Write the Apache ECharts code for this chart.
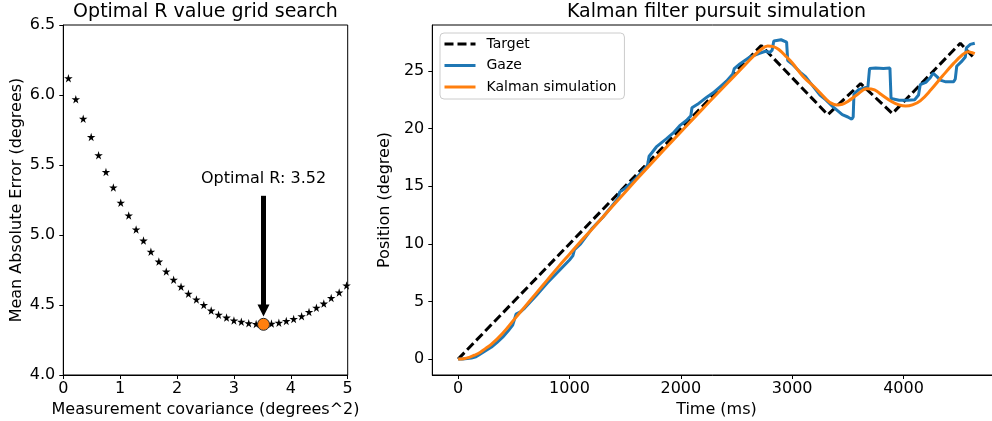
<!DOCTYPE html>
<html>
<head>
<meta charset="utf-8">
<script src="https://cdn.jsdelivr.net/npm/echarts@6/dist/echarts.min.js"></script>
<style>
html,body{margin:0;padding:0;background:#fff;}
#chart{width:992px;height:421px;}
</style>
</head>
<body>
<div id="chart"></div>
<script>
// ---------- Left panel: grid search ----------
const mseR = [0.09, 0.22, 0.35, 0.49, 0.62, 0.75, 0.88, 1.01, 1.15, 1.28, 1.41, 1.54, 1.68, 1.81, 1.94, 2.07, 2.20, 2.34, 2.47, 2.60, 2.73, 2.87, 3.00, 3.13, 3.26, 3.39, 3.52, 3.66, 3.79, 3.92, 4.05, 4.19, 4.32, 4.45, 4.58, 4.71, 4.85, 4.98];
const mseErr = [6.12, 5.97, 5.83, 5.70, 5.57, 5.45, 5.34, 5.23, 5.14, 5.04, 4.96, 4.88, 4.81, 4.74, 4.68, 4.63, 4.58, 4.54, 4.50, 4.46, 4.43, 4.41, 4.39, 4.38, 4.37, 4.365, 4.362, 4.367, 4.374, 4.386, 4.40, 4.42, 4.45, 4.48, 4.51, 4.55, 4.59, 4.64];
const optimalR = 3.52;
const optimalErr = 4.362;
const arrowFrom = 5.28;
const arrowTo = 4.46;
const annotationY = 5.40;
const leftXTicks = [0, 1, 2, 3, 4, 5];
const leftYTicks = [4.0, 4.5, 5.0, 5.5, 6.0, 6.5];

// ---------- Right panel: pursuit simulation ----------
const targetT = [0, 2722, 3320, 3615, 3900, 4510, 4625];
const targetPos = [0, 27.2, 21.2, 23.9, 21.3, 27.4, 26.2];

const gazeT = [0, 40, 80, 120, 160, 200, 250, 300, 350, 400, 450, 490, 505, 520, 560, 600, 700, 800, 900, 1000, 1030, 1045, 1100, 1200, 1300, 1400, 1440, 1450, 1500, 1600, 1700, 1715, 1740, 1780, 1830, 1870, 1930, 1990, 2050, 2090, 2100, 2150, 2230, 2290, 2350, 2410, 2465, 2480, 2530, 2620, 2700, 2760, 2800, 2820, 2835, 2900, 2950, 2960, 3000, 3070, 3120, 3160, 3250, 3300, 3370, 3450, 3500, 3535, 3548, 3555, 3600, 3640, 3680, 3695, 3750, 3820, 3878, 3888, 3960, 4040, 4100, 4135, 4150, 4200, 4240, 4265, 4300, 4330, 4380, 4450, 4465, 4478, 4520, 4555, 4565, 4600, 4640];
const gazePos = [0, 0, 0.05, 0.1, 0.2, 0.45, 0.75, 1.05, 1.45, 1.9, 2.45, 2.95, 3.4, 3.9, 4.1, 4.45, 5.5, 6.6, 7.6, 8.6, 8.95, 9.5, 10.0, 11.3, 12.3, 13.5, 14.0, 14.5, 14.8, 15.7, 16.8, 17.6, 17.9, 18.4, 18.8, 19.1, 19.6, 20.25, 20.7, 21.1, 21.8, 22.1, 22.7, 23.1, 23.6, 24.1, 24.7, 25.2, 25.6, 26.2, 26.5, 26.7, 26.6, 26.8, 27.6, 27.7, 27.5, 25.9, 25.6, 24.9, 24.5, 24.0, 22.9, 22.5, 21.85, 21.2, 21.0, 20.8, 21.0, 23.0, 23.4, 23.5, 23.6, 25.2, 25.25, 25.2, 25.25, 22.6, 22.45, 22.45, 22.5, 22.9, 23.8, 24.0, 24.4, 24.8, 24.5, 24.2, 24.05, 24.05, 24.3, 25.4, 25.8, 26.2, 27.0, 27.3, 27.4];

const kalmanT = [0, 50, 100, 150, 200, 250, 300, 400, 500, 600, 700, 800, 900, 1000, 1100, 1200, 1400, 1600, 1800, 2000, 2200, 2400, 2550, 2650, 2720, 2780, 2830, 2880, 2950, 3000, 3100, 3200, 3300, 3350, 3400, 3450, 3500, 3580, 3670, 3740, 3800, 3900, 3960, 4020, 4080, 4150, 4250, 4350, 4450, 4530, 4580, 4610, 4640];
const kalmanPos = [0, 0.03, 0.15, 0.35, 0.6, 0.95, 1.3, 2.25, 3.4, 4.55, 5.7, 6.85, 8.0, 9.1, 10.2, 11.25, 13.4, 15.55, 17.65, 19.7, 21.75, 23.75, 25.25, 26.25, 26.85, 27.15, 27.1, 26.85, 26.2, 25.7, 24.5, 23.6, 22.6, 22.2, 22.05, 22.1, 22.35, 22.9, 23.45, 23.35, 22.95, 22.3, 22.05, 21.95, 22.05, 22.4, 23.4, 24.55, 25.65, 26.4, 26.65, 26.6, 26.5];

const rightXTicks = [0, 1000, 2000, 3000, 4000];
const rightYTicks = [0, 5, 10, 15, 20, 25];

const zip = (a, b) => a.map((v, i) => [v, b[i]]);

const FONT = 'DejaVu Sans';
const starPath = 'path://M50,0 L61,35 L98,35 L68,57 L79,91 L50,70 L21,91 L32,57 L2,35 L39,35 Z';

function axisCommon(extra) {
  return Object.assign({
    type: 'value',
    splitLine: { show: false },
    axisLine: { show: true, onZero: false, lineStyle: { color: '#000', width: 1 } },
    nameLocation: 'middle',
    nameTextStyle: { color: '#000', fontSize: 16, fontFamily: FONT }
  }, extra);
}
function labelCfg(ticks, margin, fmt) {
  return { color: '#000', fontSize: 16, fontFamily: FONT, margin: margin, customValues: ticks, formatter: fmt };
}
function tickCfg(ticks) {
  return { show: true, inside: false, length: 4, lineStyle: { color: '#000', width: 1 }, customValues: ticks };
}

const chart = echarts.init(document.getElementById('chart'), null, { renderer: 'canvas' });

const option = {
  animation: false,
  backgroundColor: '#fff',
  textStyle: { fontFamily: FONT },
  title: [
    { text: 'Optimal R value grid search', left: 205.5, top: 3, padding: 0, textAlign: 'center',
      textStyle: { fontSize: 19, fontWeight: 'normal', color: '#000', fontFamily: FONT } },
    { text: 'Kalman filter pursuit simulation', left: 716.5, top: 3, padding: 0, textAlign: 'center',
      textStyle: { fontSize: 19, fontWeight: 'normal', color: '#000', fontFamily: FONT } }
  ],
  grid: [
    { left: 63.3, top: 25, width: 284.4, height: 350, show: true, borderColor: '#000', borderWidth: 1, backgroundColor: 'transparent', containLabel: false, outerBoundsMode: 'none' },
    { left: 432.3, top: 25, width: 568.3, height: 350, show: true, borderColor: '#000', borderWidth: 1, backgroundColor: 'transparent', containLabel: false, outerBoundsMode: 'none' }
  ],
  xAxis: [
    axisCommon({ gridIndex: 0, min: 0, max: 5, interval: 1,
      axisLabel: labelCfg(leftXTicks, 6, v => String(v)),
      axisTick: tickCfg(leftXTicks),
      name: 'Measurement covariance (degrees^2)', nameGap: 23 }),
    axisCommon({ gridIndex: 1, min: -232, max: 4872,
      axisLabel: labelCfg(rightXTicks, 6, v => String(v)),
      axisTick: tickCfg(rightXTicks),
      name: 'Time (ms)', nameGap: 23 })
  ],
  yAxis: [
    axisCommon({ gridIndex: 0, min: 4, max: 6.5, interval: 0.5,
      axisLabel: labelCfg(leftYTicks, 8, v => Number(v).toFixed(1)),
      axisTick: tickCfg(leftYTicks),
      name: 'Mean Absolute Error (degrees)', nameGap: 38 }),
    axisCommon({ gridIndex: 1, min: -1.38, max: 28.98,
      axisLabel: labelCfg(rightYTicks, 8, v => String(v)),
      axisTick: tickCfg(rightYTicks),
      name: 'Position (degree)', nameGap: 27 })
  ],
  legend: {
    show: true,
    orient: 'vertical',
    left: 440, top: 33,
    padding: [4, 8, 5, 3],
    itemWidth: 31, itemHeight: 14, itemGap: 7.5,
    backgroundColor: 'rgba(255,255,255,0.8)',
    borderColor: '#cccccc', borderWidth: 1, borderRadius: 4,
    itemStyle: { opacity: 0 },
    lineStyle: { width: 3 },
    textStyle: { color: '#000', fontSize: 14, fontFamily: FONT, lineHeight: 14, padding: [0, 0, 0, 6] },
    data: ['Target', 'Gaze', 'Kalman simulation']
  },
  series: [
    {
      type: 'scatter', name: 'grid', xAxisIndex: 0, yAxisIndex: 0,
      data: zip(mseR, mseErr),
      symbol: starPath, symbolSize: 8.5,
      itemStyle: { color: '#000', opacity: 1 }, z: 2
    },
    {
      type: 'scatter', name: 'optimal', xAxisIndex: 0, yAxisIndex: 0,
      data: [[optimalR, optimalErr]],
      symbol: 'circle', symbolSize: 12,
      itemStyle: { color: '#ff7f0e', borderColor: '#2a2a2a', borderWidth: 1, opacity: 1 },
      z: 4,
      markLine: {
        silent: true, animation: false,
        symbol: ['none', 'triangle'], symbolSize: [12, 12],
        lineStyle: { color: '#000', width: 5, type: 'solid' },
        itemStyle: { color: '#000' },
        label: { show: false },
        emphasis: { disabled: true },
        data: [[{ coord: [optimalR, arrowFrom] }, { coord: [optimalR, arrowTo] }]]
      },
      markPoint: {
        silent: true, animation: false,
        symbol: 'rect', symbolSize: 1,
        itemStyle: { color: 'rgba(0,0,0,0)' },
        label: { show: true, position: 'inside', color: '#000', fontSize: 16, fontFamily: FONT,
          formatter: 'Optimal R: ' + optimalR.toFixed(2) },
        data: [{ coord: [optimalR, annotationY] }]
      }
    },
    {
      type: 'line', name: 'Target', xAxisIndex: 1, yAxisIndex: 1,
      data: zip(targetT, targetPos),
      showSymbol: false, symbol: 'none',
      lineStyle: { color: '#000', width: 3, type: [9, 4] },
      itemStyle: { color: '#000' }, z: 2
    },
    {
      type: 'line', name: 'Gaze', xAxisIndex: 1, yAxisIndex: 1,
      data: zip(gazeT, gazePos),
      showSymbol: false, symbol: 'none',
      lineStyle: { color: '#1f77b4', width: 3 },
      itemStyle: { color: '#1f77b4' }, z: 3
    },
    {
      type: 'line', name: 'Kalman simulation', xAxisIndex: 1, yAxisIndex: 1,
      data: zip(kalmanT, kalmanPos),
      showSymbol: false, symbol: 'none', smooth: 0.4,
      lineStyle: { color: '#ff7f0e', width: 3 },
      itemStyle: { color: '#ff7f0e' }, z: 4
    }
  ]
};
chart.setOption(option);
</script>
</body>
</html>
